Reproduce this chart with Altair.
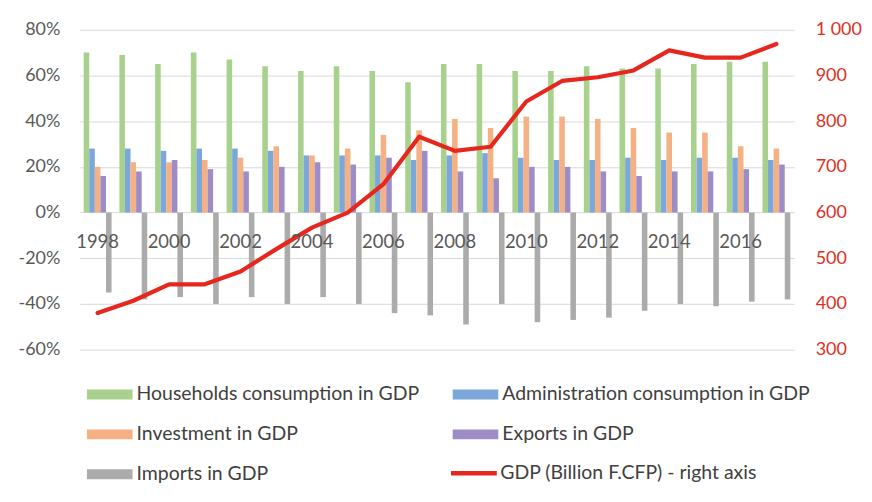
import altair as alt
import pandas as pd

years = [str(y) for y in range(1998, 2018)]
households = [70, 69, 65, 70, 67, 64, 62, 64, 62, 57, 65, 65, 62, 62, 64, 63, 63, 65, 66, 66]
administration = [28, 28, 27, 28, 28, 27, 25, 25, 25, 23, 25, 26, 24, 23, 23, 24, 23, 24, 24, 23]
investment = [20, 22, 22, 23, 24, 29, 25, 28, 34, 36, 41, 37, 42, 42, 41, 37, 35, 35, 29, 28]
exports = [16, 18, 23, 19, 18, 20, 22, 21, 24, 27, 18, 15, 20, 20, 18, 16, 18, 18, 19, 21]
imports = [-35, -38, -37, -40, -37, -40, -37, -40, -44, -45, -49, -40, -48, -47, -46, -43, -40, -41, -39, -38]
gdp = [380, 407, 443, 443, 471, 520, 567, 600, 662, 766, 735, 744, 843, 888, 896, 911, 955, 939, 939, 969]

series_names = [
    "Households consumption in GDP",
    "Administration consumption in GDP",
    "Investment in GDP",
    "Exports in GDP",
    "Imports in GDP",
]
series_colors = ["#A9D18E", "#7BA7DA", "#F5B084", "#9D8CC6", "#ABABAB"]
line_name = "GDP (Billion F.CFP) - right axis"
line_color = "#E5271D"

left_ticks = [-0.6, -0.4, -0.2, 0.0, 0.2, 0.4, 0.6, 0.8]
right_ticks = [300, 400, 500, 600, 700, 800, 900, 1000]

rows = []
for name, vals in zip(series_names, [households, administration, investment, exports, imports]):
    for yr, v in zip(years, vals):
        rows.append({"year": yr, "series": name, "value": v / 100})
bars_df = pd.DataFrame(rows)
gdp_df = pd.DataFrame({"year": years, "gdp": gdp, "label": [line_name] * len(years)})

FONT = "Lato"
W, H = 717, 321

x_scale = alt.Scale(domain=years, paddingInner=0.22, paddingOuter=0.11)
x_axis = alt.Axis(
    values=years[::2], title=None, orient="bottom", offset=-137.6, labelAngle=0,
    ticks=False, domain=False, grid=False, labelPadding=20, labelFontSize=18.5,
    labelColor="#595959", labelFont=FONT, zindex=1,
)

bars = alt.Chart(bars_df).mark_bar().encode(
    x=alt.X("year:N", scale=x_scale, axis=x_axis, sort=years),
    xOffset=alt.XOffset(
        "series:N", sort=series_names,
        scale=alt.Scale(domain=series_names, paddingInner=0, paddingOuter=0),
    ),
    y=alt.Y(
        "value:Q",
        scale=alt.Scale(domain=[-0.6, 0.8], nice=False, zero=True),
        axis=alt.Axis(
            values=left_ticks, title=None, orient="left", ticks=False, domain=False,
            grid=True, gridColor="#D9D9D9", gridWidth=1,
            labelExpr="(datum.value < 0 ? '-' : '') + format(abs(datum.value), '.0%')",
            labelFont=FONT, labelFontSize=18, labelColor="#595959", labelPadding=20,
        ),
    ),
    color=alt.Color(
        "series:N",
        scale=alt.Scale(domain=series_names, range=series_colors),
        legend=alt.Legend(
            orient="none", legendX=7, legendY=356, columns=2, direction="horizontal",
            title=None,
            symbolType="M-1,-0.217H1V0.217H-1Z", symbolSize=2116, symbolStrokeWidth=0,
            labelFont=FONT, labelFontSize=19.5, labelColor="#404040", labelOffset=4,
            labelLimit=400, columnPadding=33, rowPadding=20, clipHeight=20, padding=0,
            symbolOpacity=1,
        ),
    ),
)

line = alt.Chart(gdp_df).mark_line(strokeWidth=4.2, strokeJoin="round", strokeCap="round").encode(
    x=alt.X("year:N", scale=x_scale, sort=years),
    y=alt.Y(
        "gdp:Q",
        scale=alt.Scale(domain=[300, 1000], nice=False, zero=False),
        axis=alt.Axis(
            values=right_ticks, title=None, orient="right", ticks=False, domain=False,
            grid=False,
            labelExpr="replace(format(datum.value, ','), ',', ' ')",
            labelFont=FONT, labelFontSize=18, labelColor="#E0301E", labelPadding=21,
        ),
    ),
    stroke=alt.Stroke(
        "label:N",
        scale=alt.Scale(domain=[line_name], range=[line_color]),
        legend=alt.Legend(
            orient="none", legendX=370, legendY=435, title=None,
            symbolType="stroke", symbolSize=2116, symbolStrokeWidth=4.5,
            labelFont=FONT, labelFontSize=19.5, labelColor="#404040", labelOffset=1,
            labelLimit=400, clipHeight=20, padding=0,
        ),
    ),
)

chart = (
    alt.layer(bars, line)
    .resolve_scale(y="independent")
    .properties(
        width=W, height=H,
        autosize=alt.AutoSizeParams(type="none"),
        padding={"left": 72, "top": 21, "right": 70, "bottom": 140},
        background="white",
    )
    .configure_view(stroke=None)
)

chart.save("out.html", embed_options={"renderer": "svg", "actions": False})
